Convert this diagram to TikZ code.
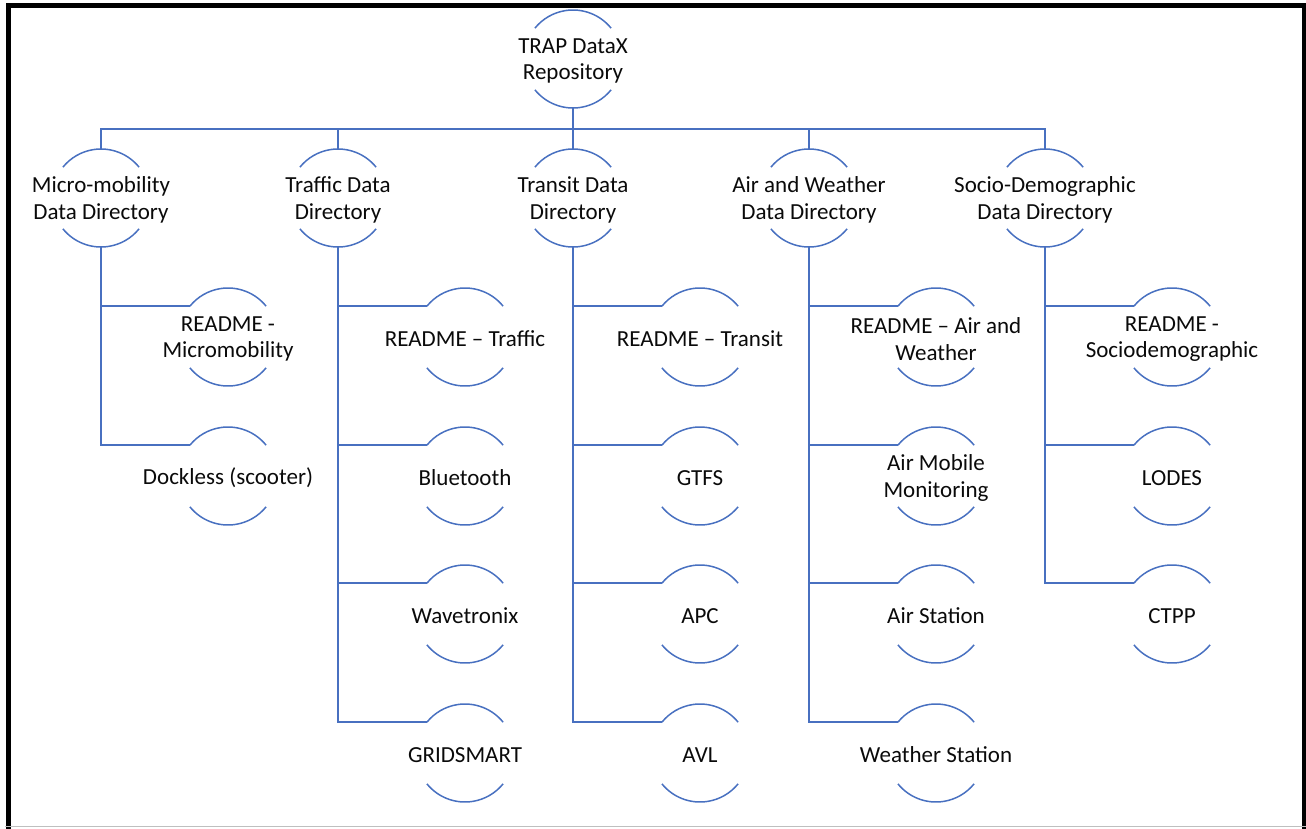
\documentclass[tikz,border=0pt]{standalone}
\usepackage{fontspec}
\setmainfont{Carlito}
\definecolor{arcblue}{RGB}{72,112,192}
\definecolor{txtc}{RGB}{10,10,10}
\tikzset{
  hub/.style={circle, minimum size=98pt, inner sep=0pt, outer sep=0pt},
  txt/.style={align=center, text=txtc, inner sep=0pt, yshift=-2pt, font=\fontsize{23}{26.5}\selectfont},
  conn/.style={draw=arcblue, line width=1.5pt},
  arcline/.style={draw=arcblue, line width=1.5pt}
}
\newcommand\tnode[3]{\node[hub] (#1) at (#2) {}; \node[txt] (#1t) at (#1) {#3};}
\begin{document}
\begin{tikzpicture}[x=1pt,y=1pt]
\useasboundingbox (0,0) rectangle (1306,-828);
% border
\draw[line width=5pt] (8.5,-830) -- (8.5,-5) -- (1304,-5) -- (1304,-830);
\draw[black!25, line width=1.5pt] (5,-826.5) -- (1306,-826.5);
% nodes
\tnode{root}{573,-59}{TRAP DataX\\Repository}
\tnode{micro}{101,-198}{Micro-mobility\\Data Directory}
\tnode{traffic}{338,-198}{Traffic Data\\Directory}
\tnode{transit}{573,-198}{Transit Data\\Directory}
\tnode{air}{809,-198}{Air and Weather\\Data Directory}
\tnode{socio}{1045,-198}{Socio-Demographic\\Data Directory}
% micro children
\tnode{mread}{228,-337}{README -\\Micromobility}
\tnode{mdock}{228,-476}{Dockless (scooter)}
% traffic children
\tnode{tread}{465,-337}{README -- Traffic}
\tnode{tblue}{465,-476}{Bluetooth}
\tnode{twave}{465,-614}{Wavetronix}
\tnode{tgrid}{465,-753}{GRIDSMART}
% transit children
\tnode{rread}{700,-337}{README -- Transit}
\tnode{rgtfs}{700,-476}{GTFS}
\tnode{rapc}{700,-614}{APC}
\tnode{ravl}{700,-753}{AVL}
% air children
\tnode{aread}{936,-337}{README -- Air and\\Weather}
\tnode{amob}{936,-476}{Air Mobile\\Monitoring}
\tnode{asta}{936,-614}{Air Station}
\tnode{wsta}{936,-753}{Weather Station}
% socio children
\tnode{sread}{1172,-337}{README -\\Sociodemographic}
\tnode{slodes}{1172,-476}{LODES}
\tnode{sctpp}{1172,-614}{CTPP}
% arcs
\foreach \n in {root,micro,traffic,transit,air,socio,mread,mdock,tread,tblue,twave,tgrid,rread,rgtfs,rapc,ravl,aread,amob,asta,wsta,sread,slodes,sctpp}{
  \draw[arcline] (\n.39) arc[start angle=39, end angle=141, radius=49pt];
  \draw[arcline] (\n.219) arc[start angle=219, end angle=321, radius=49pt];
}
% connectors
\coordinate (bus) at (573,-129);
\draw[conn] (root.south) -- (transit.north);
\foreach \n in {micro,traffic,air,socio}{
  \draw[conn] (bus) -| (\n.north);
}
\foreach \p/\c in {micro/mread,micro/mdock,
  traffic/tread,traffic/tblue,traffic/twave,traffic/tgrid,
  transit/rread,transit/rgtfs,transit/rapc,transit/ravl,
  air/aread,air/amob,air/asta,air/wsta,
  socio/sread,socio/slodes,socio/sctpp}{
  \draw[conn] (\p.south) |- (\c.141);
}
\end{tikzpicture}
\end{document}
